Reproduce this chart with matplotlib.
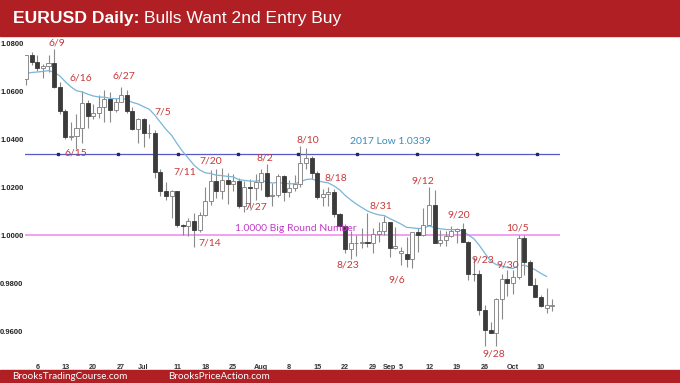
import numpy as np
import pandas as pd
import matplotlib
matplotlib.use("Agg")
import matplotlib.pyplot as plt
from matplotlib import font_manager
from matplotlib.patches import Rectangle

# EURUSD daily bars, Jun 2 - Oct 12 2022 (one row per week)
dates = pd.bdate_range("2022-06-02", "2022-10-12")

opens = [
    1.0650, 1.0749,
    1.0719, 1.0695, 1.0705, 1.0716, 1.0617,
    1.0518, 1.0409, 1.0414, 1.0446, 1.0552,
    1.0495, 1.0508, 1.0534, 1.0567, 1.0522,
    1.0553, 1.0583, 1.0517, 1.0442, 1.0484,
    1.0425, 1.0425, 1.0264, 1.0183, 1.0162,
    1.0183, 1.0041, 1.0036, 1.0060, 1.0019,
    1.0085, 1.0143, 1.0227, 1.0183, 1.0231,
    1.0213, 1.0226, 1.0120, 1.0198, 1.0195,
    1.0221, 1.0260, 1.0164, 1.0168, 1.0245,
    1.0181, 1.0196, 1.0211, 1.0298, 1.0320,
    1.0258, 1.0160, 1.0171, 1.0179, 1.0087,
    1.0037, 0.9942, 0.9967, 0.9967, 0.9972,
    0.9965, 1.0004, 1.0018, 1.0054, 0.9946,
    0.9925, 0.9922, 0.9901, 1.0011, 1.0000,
    1.0043, 1.0124, 0.9966, 0.9978, 0.9998,
    1.0015, 1.0024, 0.9969, 0.9838, 0.9837,
    0.9689, 0.9606, 0.9592, 0.9735, 0.9817,
    0.9802, 0.9826, 0.9986, 0.9887, 0.9793,
    0.9741, 0.9695, 0.9705,
]
highs = [
    1.0750, 1.0764,
    1.0752, 1.0711, 1.0748, 1.0774, 1.0636,
    1.0523, 1.0471, 1.0506, 1.0601, 1.0564,
    1.0545, 1.0583, 1.0605, 1.0594, 1.0570,
    1.0615, 1.0606, 1.0533, 1.0487, 1.0486,
    1.0462, 1.0436, 1.0276, 1.0222, 1.0188,
    1.0185, 1.0045, 1.0070, 1.0093, 1.0097,
    1.0201, 1.0269, 1.0273, 1.0278, 1.0259,
    1.0254, 1.0236, 1.0225, 1.0234, 1.0254,
    1.0275, 1.0294, 1.0215, 1.0254, 1.0249,
    1.0230, 1.0249, 1.0369, 1.0364, 1.0329,
    1.0266, 1.0193, 1.0202, 1.0192, 1.0091,
    1.0044, 1.0016, 0.9999, 1.0030, 1.0090,
    1.0029, 1.0055, 1.0079, 1.0056, 1.0034,
    0.9950, 0.9992, 1.0010, 1.0029, 1.0113,
    1.0198, 1.0188, 1.0019, 1.0018, 1.0037,
    1.0028, 1.0051, 0.9976, 0.9907, 0.9853,
    0.9709, 0.9636, 0.9736, 0.9837, 0.9854,
    0.9853, 0.9999, 0.9999, 0.9898, 0.9820,
    0.9749, 0.9778, 0.9733,
]
lows = [
    1.0627, 1.0707,
    1.0683, 1.0653, 1.0678, 1.0612, 1.0506,
    1.0399, 1.0397, 1.0358, 1.0382, 1.0444,
    1.0485, 1.0489, 1.0470, 1.0469, 1.0512,
    1.0553, 1.0509, 1.0436, 1.0382, 1.0366,
    1.0405, 1.0236, 1.0162, 1.0144, 1.0072,
    1.0034, 0.9999, 0.9998, 0.9952, 1.0011,
    1.0079, 1.0126, 1.0155, 1.0152, 1.0131,
    1.0183, 1.0113, 1.0095, 1.0111, 1.0147,
    1.0187, 1.0160, 1.0123, 1.0157, 1.0142,
    1.0160, 1.0185, 1.0202, 1.0273, 1.0235,
    1.0152, 1.0122, 1.0123, 1.0077, 1.0033,
    0.9926, 0.9900, 0.9911, 0.9948, 0.9950,
    0.9924, 0.9970, 1.0001, 0.9910, 0.9942,
    0.9877, 0.9865, 0.9864, 0.9929, 0.9994,
    1.0040, 0.9966, 0.9955, 0.9955, 0.9991,
    0.9966, 0.9971, 0.9811, 0.9808, 0.9667,
    0.9538, 0.9593, 0.9536, 0.9649, 0.9748,
    0.9754, 0.9815, 0.9835, 0.9791, 0.9743,
    0.9700, 0.9675, 0.9683,
]
closes = [
    1.0749, 1.0719,
    1.0695, 1.0705, 1.0716, 1.0617, 1.0518,
    1.0409, 1.0414, 1.0446, 1.0552, 1.0495,
    1.0508, 1.0534, 1.0567, 1.0522, 1.0553,
    1.0583, 1.0517, 1.0442, 1.0484, 1.0425,
    1.0425, 1.0264, 1.0183, 1.0162, 1.0183,
    1.0041, 1.0036, 1.0060, 1.0019, 1.0085,
    1.0143, 1.0227, 1.0183, 1.0231, 1.0213,
    1.0226, 1.0120, 1.0198, 1.0195, 1.0221,
    1.0260, 1.0164, 1.0168, 1.0245, 1.0181,
    1.0196, 1.0211, 1.0298, 1.0320, 1.0258,
    1.0160, 1.0171, 1.0179, 1.0087, 1.0037,
    0.9942, 0.9967, 0.9967, 0.9972, 0.9965,
    1.0004, 1.0018, 1.0054, 0.9946, 0.9954,
    0.9935, 0.9901, 1.0011, 1.0000, 1.0043,
    1.0124, 0.9966, 0.9978, 0.9998, 1.0015,
    1.0024, 0.9969, 0.9838, 0.9837, 0.9689,
    0.9606, 0.9592, 0.9735, 0.9817, 0.9802,
    0.9826, 0.9986, 0.9887, 0.9793, 0.9741,
    0.9704, 0.9708, 0.9707,
]

ema_seed = 1.0665  # 20 EMA value before the first bar
ema_period = 20

level_2017 = 1.0339
level_round = 1.0000

tick_dates = ["2022-06-06", "2022-06-13", "2022-06-20", "2022-06-27", "2022-07-01",
              "2022-07-11", "2022-07-18", "2022-07-25", "2022-08-01", "2022-08-08",
              "2022-08-15", "2022-08-22", "2022-08-29", "2022-09-01", "2022-09-05",
              "2022-09-12", "2022-09-19", "2022-09-26", "2022-10-03", "2022-10-10"]
tick_labels = ["6", "13", "20", "27", "Jul", "11", "18", "25", "Aug", "8",
               "15", "22", "29", "Sep", "5", "12", "19", "26", "Oct", "10"]
price_ticks = [0.96, 0.98, 1.00, 1.02, 1.04, 1.06, 1.08]

swing_text = ["6/9", "6/16", "6/27", "7/5", "6/15", "7/11", "7/20", "7/14", "8/2",
              "8/10", "7/27", "8/18", "8/31", "9/12", "9/20", "8/23", "9/6",
              "10/5", "9/23", "9/30", "9/28"]
swing_dates = ["2022-06-09", "2022-06-16", "2022-06-27", "2022-07-05", "2022-06-15",
               "2022-07-11", "2022-07-20", "2022-07-14", "2022-08-02", "2022-08-10",
               "2022-07-27", "2022-08-18", "2022-08-31", "2022-09-12", "2022-09-20",
               "2022-08-23", "2022-09-06", "2022-10-05", "2022-09-23", "2022-09-30",
               "2022-09-28"]
swing_side = ["high", "high", "high", "high", "low", "high", "high", "low", "high",
              "high", "low", "high", "high", "high", "high", "low", "low",
              "high", "high", "high", "low"]
# label offsets from the bar extreme, in pixels (dx, dy up)
swing_offset = [(3, 6), (-1, 13), (3, 11), (8, 18), (-1, -4), (8, 19), (-6, 8),
                (16, 4), (-2, 6), (7, 6), (11, 5), (2, 11), (-3, 10), (-6, 6),
                (-4, 8), (-3, -6), (-10, -13), (-7, 7), (3, 10), (0, 5), (-2, -8)]


def pick(*names):
    avail = {f.name for f in font_manager.fontManager.ttflist}
    for n in names:
        if n in avail:
            return n
    return "DejaVu Sans"


narrow = pick("Liberation Sans Narrow", "Liberation Sans")
arial = pick("Liberation Sans", "DejaVu Sans")
soft = pick("Lato", "Open Sans")
title_size = 16 if narrow == "Liberation Sans Narrow" else 12.6

red = "#b01f24"
o, h, l, c = map(np.array, (opens, highs, lows, closes))
x = np.arange(len(dates))
pos = {d: i for i, d in enumerate(dates)}

alpha = 2 / (ema_period + 1)
ema = []
prev = ema_seed
for v in c:
    prev = prev + alpha * (v - prev)
    ema.append(prev)
ema = np.array(ema)

W, H = 680, 383
fig = plt.figure(figsize=(W / 100, H / 100), dpi=100)
fig.patch.set_facecolor("white")
ax = fig.add_axes([25 / W, 1 - 362 / H, 535 / W, 325 / H])
ax.set_xlim(-0.2, 95.4)
ax.set_ylim(0.9471, 1.0825)
for s in ax.spines.values():
    s.set_visible(False)

# levels
ax.axhline(level_2017, color="#5858c6", lw=0.9, zorder=1)
mk = np.arange(5.7, len(x), 10.7)
ax.plot(mk, np.full(len(mk), level_2017), "s", ms=1.8, color="#262660", zorder=4)
ax.axhline(level_round, color="#ee86ee", lw=1.1, zorder=1)

# candles
up = c >= o
bot = np.minimum(o, c)
ht = np.maximum(np.abs(c - o), 0.00008)
ax.vlines(x, l, h, color="#8a8a8a", lw=0.8, zorder=2)
ax.bar(x[up], ht[up], bottom=bot[up], width=0.72, facecolor="white",
       edgecolor="#7a7a7a", lw=0.6, zorder=3)
ax.bar(x[~up], ht[~up], bottom=bot[~up], width=0.72, facecolor="#3b3b3b",
       edgecolor="#3b3b3b", lw=0.6, zorder=3)

ax.plot(x[:-1], ema[:-1], color="#78b6d8", lw=0.9, zorder=2)

# swing labels
for t, d, side, (dx, dy) in zip(swing_text, swing_dates, swing_side, swing_offset):
    i = pos[pd.Timestamp(d)]
    y = h[i] if side == "high" else l[i]
    ax.annotate(t, (i, y), xytext=(dx, dy), textcoords="offset pixels",
                ha="center", va="center", fontsize=7.5, color="#c8383a",
                family=soft, zorder=5)

ax.annotate("2017 Low 1.0339", ((391 - 26) / 5.6, level_2017), xytext=(0, 12),
            textcoords="offset pixels", ha="center", va="center", fontsize=7.5,
            color="#3a8dbb", family=soft)
ax.annotate("1.0000 Big Round Number", ((295.5 - 26) / 5.6, level_round),
            xytext=(0, 7), textcoords="offset pixels", ha="center", va="center",
            fontsize=7.5, color="#c43bc8", family=soft)

ax.set_yticks(price_ticks)
ax.set_yticklabels([f"{p:.4f}" for p in price_ticks], fontsize=5.5,
                   fontweight="bold", color="#222222", family=arial)
ax.set_xticks([pos[pd.Timestamp(d)] for d in tick_dates])
ax.set_xticklabels(tick_labels, fontsize=5.2, fontweight="bold", color="#333333",
                   family=arial)
ax.tick_params(length=0, pad=1)
ax.tick_params(axis="x", pad=1.5)

# header and footer bands
fig.patches.append(Rectangle((0, 1 - 36 / H), 1, 36 / H, transform=fig.transFigure,
                             color=red, zorder=0))
fig.patches.append(Rectangle((0, 0), 1, 13 / H, transform=fig.transFigure,
                             color=red, zorder=0))

t1 = fig.text(13 / W, 1 - 18 / H, "EURUSD Daily:", color="white", fontsize=title_size,
              fontweight="bold", family=narrow, va="center")
fig.canvas.draw()
bb = t1.get_window_extent()
fig.text((bb.x1 + 5) / W, 1 - 18 / H, "Bulls Want 2nd Entry Buy", color="white",
         fontsize=title_size, family=narrow, va="center")

fig.text(12 / W, 6.5 / H, "BrooksTradingCourse.com", color="white", fontsize=7.1,
         family=soft, va="center")
fig.text(168 / W, 6.5 / H, "BrooksPriceAction.com", color="white", fontsize=7.1,
         family=soft, va="center")

fig.savefig("out.png", dpi=100)
